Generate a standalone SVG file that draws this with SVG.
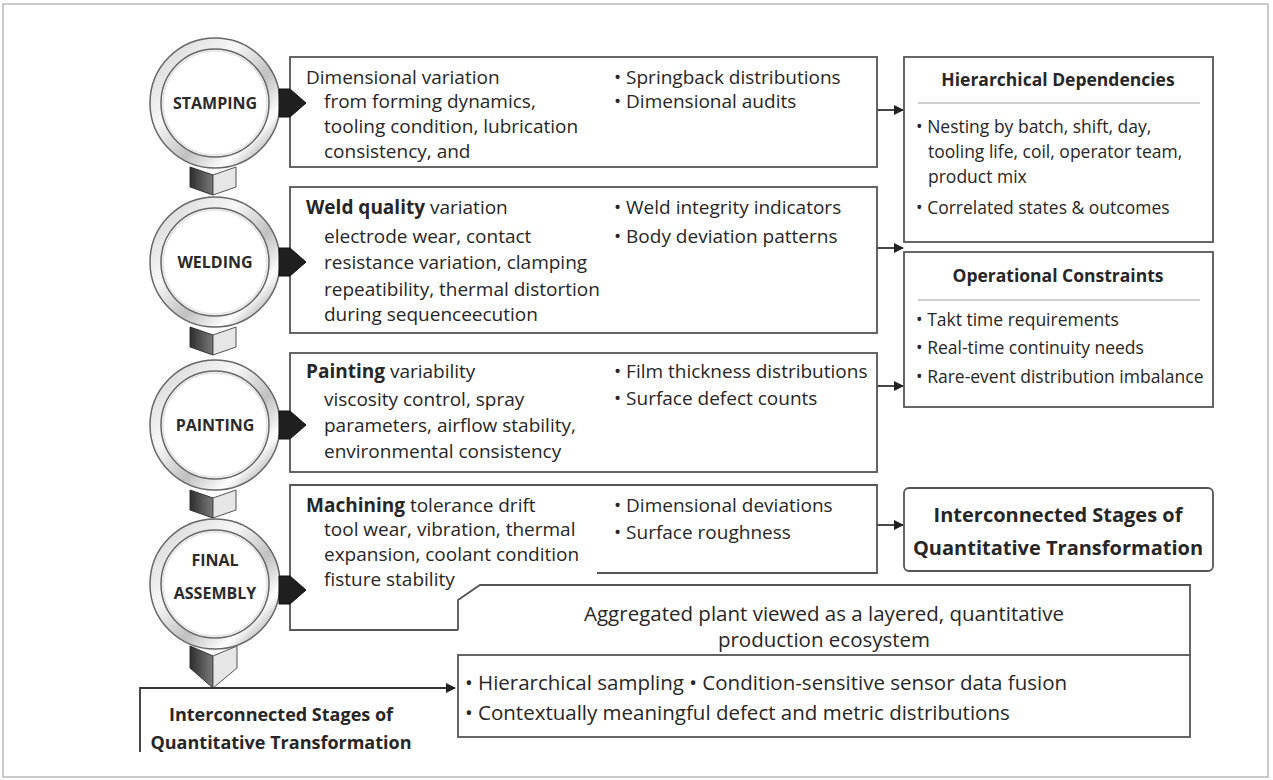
<svg xmlns="http://www.w3.org/2000/svg" width="1273" height="780" viewBox="0 0 1273 780">
  <defs>
    <style>
      .t { font-family: "Open Sans", "Noto Sans", sans-serif; fill: #262626; }
      .s { font-size: 19px; }
      .r { font-size: 17.5px; }
      .b { font-weight: 700; }
      .lbl { font-family: "Open Sans", "Noto Sans", sans-serif; font-size: 16px; font-weight: 700; fill: #2a2a2a; text-anchor: middle; }
      .box { fill: #ffffff; stroke: #555555; stroke-width: 1.8; }
      .div { stroke: #a0a0a0; stroke-width: 1.2; }
      .wire { fill: none; stroke: #333333; stroke-width: 1.8; }
      .tab { fill: #1f1f1f; stroke: #111; stroke-width: 1; stroke-linejoin: round; }
      .ring-out { fill: none; stroke: #666666; stroke-width: 1.5; }
      .ring { fill: none; stroke: url(#ringGrad); stroke-width: 11; }
      .face-d { fill: url(#darkFace); stroke: #333; stroke-width: 1; }
      .face-l { fill: #e6e6e6; stroke: #555; stroke-width: 1; }
    </style>
    <linearGradient id="ringGrad" x1="0" y1="0" x2="1" y2="1">
      <stop offset="0" stop-color="#d4d4d4"/>
      <stop offset="0.35" stop-color="#f7f7f7"/>
      <stop offset="0.6" stop-color="#c0c0c0"/>
      <stop offset="0.8" stop-color="#ffffff"/>
      <stop offset="1" stop-color="#858585"/>
    </linearGradient>
    <linearGradient id="darkFace" x1="0" y1="0" x2="1" y2="0">
      <stop offset="0" stop-color="#2e2e2e"/>
      <stop offset="1" stop-color="#7a7a7a"/>
    </linearGradient>
    <marker id="arrow" markerWidth="10" markerHeight="10" refX="9" refY="5" orient="auto" markerUnits="userSpaceOnUse">
      <path d="M0,0 L10,5 L0,10 Z" fill="#222"/>
    </marker>
    <!-- metallic stage ring -->
    <g id="ringShape">
      <circle r="59.5" class="ring"/>
      <circle r="65" class="ring-out"/>
      <circle r="54" class="ring-out"/>
      <circle r="52" fill="#ffffff" stroke="#e2e2e2" stroke-width="1.5"/>
    </g>
    <!-- hexagonal link between rings -->
    <g id="link">
      <polygon points="-24,0 -1,8 -1,28 -24,20" class="face-d"/>
      <polygon points="-1,8 22,0 22,20 -1,28" class="face-l"/>
    </g>
    <!-- pointer tab on the right of a ring -->
    <polygon id="tab" points="-1,-14 10,-14 26,0 10,14 -1,14" class="tab"/>
  </defs>

  <!-- page frame -->
  <rect x="3" y="4" width="1265" height="773" fill="#ffffff" stroke="#a8a8a8" stroke-width="1.2"/>

  <!-- links between stage rings -->
  <g id="links">
    <use href="#link" x="214" y="167"/>
    <use href="#link" x="214" y="327"/>
    <use href="#link" x="214" y="490"/>
    <g id="link-tip">
      <polygon points="190,646 213,656 213,688 190,668" class="face-d"/>
      <polygon points="213,656 237,646 237,668 213,688" class="face-l"/>
    </g>
  </g>

  <!-- connectors -->
  <g id="connectors">
    <line x1="877" y1="110" x2="903" y2="110" class="wire" marker-end="url(#arrow)"/>
    <line x1="877" y1="248" x2="903" y2="248" class="wire" marker-end="url(#arrow)"/>
    <line x1="877" y1="386" x2="903" y2="386" class="wire" marker-end="url(#arrow)"/>
    <line x1="877" y1="525" x2="903" y2="525" class="wire" marker-end="url(#arrow)"/>
    <path d="M140,752 V688 H455" class="wire" marker-end="url(#arrow)"/>
  </g>

  <!-- stage rings -->
  <g id="stamping">
    <use href="#ringShape" x="215" y="103"/>
    <text x="215" y="109" class="lbl">STAMPING</text>
  </g>
  <g id="welding">
    <use href="#ringShape" x="215" y="262"/>
    <text x="215" y="268" class="lbl">WELDING</text>
  </g>
  <g id="painting">
    <use href="#ringShape" x="215" y="425"/>
    <text x="215" y="431" class="lbl">PAINTING</text>
  </g>
  <g id="final-assembly">
    <use href="#ringShape" x="215" y="584"/>
    <text x="215" y="566" class="lbl">FINAL</text>
    <text x="215" y="599" class="lbl">ASSEMBLY</text>
  </g>

  <!-- stage detail boxes -->
  <g id="stamping-box">
    <rect x="290" y="57" width="587" height="110" class="box"/>
    <text class="t s" x="306" y="84">Dimensional variation</text>
    <text class="t s" x="324" y="108">from forming dynamics,</text>
    <text class="t s" x="324" y="133">tooling condition, lubrication</text>
    <text class="t s" x="324" y="158">consistency, and</text>
    <text class="t s" x="614" y="84">• Springback distributions</text>
    <text class="t s" x="614" y="108">• Dimensional audits</text>
  </g>
  <g id="welding-box">
    <rect x="290" y="187" width="587" height="146" class="box"/>
    <text class="t s" x="306" y="214"><tspan class="b">Weld quality</tspan> variation</text>
    <text class="t s" x="324" y="243">electrode wear, contact</text>
    <text class="t s" x="324" y="269">resistance variation, clamping</text>
    <text class="t s" x="324" y="296">repeatibility, thermal distortion</text>
    <text class="t s" x="324" y="321">during sequenceecution</text>
    <text class="t s" x="614" y="214">• Weld integrity indicators</text>
    <text class="t s" x="614" y="243">• Body deviation patterns</text>
  </g>
  <g id="painting-box">
    <rect x="290" y="353" width="587" height="119" class="box"/>
    <text class="t s" x="306" y="378"><tspan class="b">Painting</tspan> variability</text>
    <text class="t s" x="324" y="406">viscosity control, spray</text>
    <text class="t s" x="324" y="432">parameters, airflow stability,</text>
    <text class="t s" x="324" y="458">environmental consistency</text>
    <text class="t s" x="614" y="378">• Film thickness distributions</text>
    <text class="t s" x="614" y="405">• Surface defect counts</text>
  </g>
  <g id="machining-box">
    <path d="M597,573 H877 V485 H290 V630 H458" class="box" fill="none"/>
    <text class="t s" x="306" y="512"><tspan class="b">Machining</tspan> tolerance drift</text>
    <text class="t s" x="324" y="536">tool wear, vibration, thermal</text>
    <text class="t s" x="324" y="561">expansion, coolant condition</text>
    <text class="t s" x="324" y="586">fisture stability</text>
    <text class="t s" x="614" y="512">• Dimensional deviations</text>
    <text class="t s" x="614" y="539">• Surface roughness</text>
  </g>

  <!-- pointer tabs linking each ring to its box -->
  <g id="tabs">
    <use href="#tab" x="280" y="103"/>
    <use href="#tab" x="280" y="262"/>
    <use href="#tab" x="280" y="425"/>
    <use href="#tab" x="280" y="590"/>
  </g>

  <!-- plant aggregation -->
  <g id="aggregated">
    <path d="M458,630 V600 L480,585 H1190 V655" fill="none" stroke="#555" stroke-width="1.8"/>
    <text class="t" font-size="20.5" x="824" y="621" text-anchor="middle">Aggregated plant viewed as a layered, quantitative</text>
    <text class="t" font-size="20.5" x="824" y="647" text-anchor="middle">production ecosystem</text>
  </g>
  <g id="methods">
    <rect x="458" y="655" width="732" height="82" class="box"/>
    <text class="t" font-size="20.5" x="465" y="690">• Hierarchical sampling  • Condition-sensitive sensor data fusion</text>
    <text class="t" font-size="20.5" x="465" y="720">• Contextually meaningful defect and metric distributions</text>
  </g>

  <!-- context boxes -->
  <g id="hierarchical">
    <rect x="904" y="57" width="309" height="185" class="box"/>
    <text class="t r b" x="1058" y="86" text-anchor="middle">Hierarchical Dependencies</text>
    <line x1="918" y1="103" x2="1200" y2="103" class="div"/>
    <text class="t r" x="916" y="133">• Nesting by batch, shift, day,</text>
    <text class="t r" x="928" y="158">tooling life, coil, operator team,</text>
    <text class="t r" x="928" y="183">product mix</text>
    <text class="t r" x="916" y="214">• Correlated states &amp; outcomes</text>
  </g>
  <g id="operational">
    <rect x="904" y="252" width="309" height="155" class="box"/>
    <text class="t r b" x="1058" y="282" text-anchor="middle">Operational Constraints</text>
    <line x1="918" y1="300" x2="1200" y2="300" class="div"/>
    <text class="t r" x="916" y="326">• Takt time requirements</text>
    <text class="t r" x="916" y="354">• Real-time continuity needs</text>
    <text class="t r" x="916" y="383">• Rare-event distribution imbalance</text>
  </g>
  <g id="stages-right">
    <rect x="904" y="488" width="309" height="83" rx="5" class="box"/>
    <text class="t b" font-size="20" x="1058" y="522" text-anchor="middle">Interconnected Stages of</text>
    <text class="t b" font-size="20" x="1058" y="555" text-anchor="middle">Quantitative Transformation</text>
  </g>
  <g id="stages-left">
    <text class="t b" font-size="18" x="281" y="721" text-anchor="middle">Interconnected Stages of</text>
    <text class="t b" font-size="18" x="281" y="749" text-anchor="middle">Quantitative Transformation</text>
  </g>
</svg>
